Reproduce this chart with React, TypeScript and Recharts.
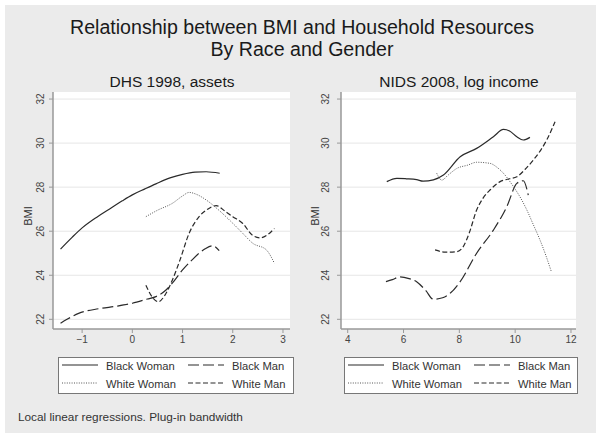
import { LineChart, Line, XAxis, YAxis, CartesianGrid } from 'recharts';

const yTicks = [22, 24, 26, 28, 30, 32];
const dhsTicks = [-1, 0, 1, 2, 3];
const nidsTicks = [4, 6, 8, 10, 12];

// DHS 1998, assets
const dhsBlackWomanX = [-1.43, -1.2, -1.0, -0.7, -0.46, -0.2, 0, 0.25, 0.47, 0.75, 1.0, 1.25, 1.47, 1.74];
const dhsBlackWomanY = [25.19, 25.72, 26.15, 26.65, 27.0, 27.38, 27.65, 27.92, 28.15, 28.42, 28.58, 28.68, 28.7, 28.63];
const dhsBlackManX = [-1.43, -1.3, -1.07, -0.67, -0.3, 0, 0.3, 0.47, 0.67, 0.8, 1.0, 1.2, 1.33, 1.45, 1.6, 1.73];
const dhsBlackManY = [21.82, 22.0, 22.27, 22.48, 22.6, 22.73, 22.92, 23.03, 23.33, 23.65, 24.24, 24.72, 25.0, 25.2, 25.34, 25.12];
const dhsWhiteWomanX = [0.27, 0.5, 0.8, 1.0, 1.13, 1.3, 1.47, 1.7, 2.0, 2.2, 2.4, 2.67, 2.83];
const dhsWhiteWomanY = [26.66, 26.95, 27.27, 27.6, 27.76, 27.65, 27.42, 27.0, 26.36, 25.9, 25.45, 25.15, 24.54];
const dhsWhiteManX = [0.27, 0.4, 0.52, 0.65, 0.8, 0.95, 1.13, 1.33, 1.5, 1.67, 1.85, 2.0, 2.2, 2.4, 2.55, 2.7, 2.83];
const dhsWhiteManY = [23.55, 23.0, 22.8, 23.1, 23.8, 24.7, 25.9, 26.66, 27.0, 27.16, 26.9, 26.66, 26.35, 25.8, 25.7, 25.85, 26.13];

// NIDS 2008, log income
const nidsBlackWomanX = [5.4, 5.76, 6.1, 6.47, 6.7, 7.07, 7.43, 8.03, 8.62, 9.22, 9.58, 9.8, 10.06, 10.29, 10.53];
const nidsBlackWomanY = [28.25, 28.4, 28.38, 28.34, 28.27, 28.33, 28.55, 29.38, 29.76, 30.29, 30.62, 30.55, 30.29, 30.14, 30.26];
const nidsBlackManX = [5.37, 5.6, 5.87, 6.2, 6.47, 6.8, 7.07, 7.4, 7.67, 8.03, 8.62, 9.22, 9.7, 10.06, 10.29, 10.47];
const nidsBlackManY = [23.71, 23.8, 23.93, 23.85, 23.71, 23.3, 22.91, 22.98, 23.18, 23.71, 25.0, 26.05, 27.11, 28.17, 28.29, 27.64];
const nidsWhiteWomanX = [7.19, 7.37, 7.6, 7.91, 8.3, 8.62, 9.1, 9.35, 9.58, 9.94, 10.2, 10.42, 10.65, 10.89, 11.1, 11.3];
const nidsWhiteWomanY = [28.63, 28.32, 28.55, 28.85, 29.0, 29.13, 29.08, 28.9, 28.63, 28.02, 27.5, 26.96, 26.3, 25.6, 24.9, 24.15];
const nidsWhiteManX = [7.13, 7.5, 7.91, 8.14, 8.35, 8.62, 8.85, 9.1, 9.46, 9.8, 10.06, 10.35, 10.65, 10.9, 11.13, 11.43];
const nidsWhiteManY = [25.15, 25.05, 25.07, 25.3, 25.9, 26.96, 27.5, 27.87, 28.25, 28.38, 28.47, 28.8, 29.23, 29.65, 30.14, 30.97];

const seriesNames = ['Black Woman', 'Black Man', 'White Woman', 'White Man'];

const pts = (xs: number[], ys: number[]) => xs.map((x, i) => ({ x, y: ys[i] }));

const styles: Record<string, { stroke: string; dash?: string; width: number }> = {
  'Black Woman': { stroke: '#2a2a2a', width: 1.2 },
  'Black Man': { stroke: '#2a2a2a', dash: '11 4', width: 1.2 },
  'White Woman': { stroke: '#555', dash: '1 1.4', width: 1 },
  'White Man': { stroke: '#2a2a2a', dash: '5 2.5', width: 1.2 },
};

const font = '"Liberation Sans", Arial, sans-serif';

const fmt = (v: number) => (v < 0 ? '\u2212' + Math.abs(v) : String(v));

function RotTick(props: any) {
  const { x, y, payload, shift } = props;
  const tx = x - shift;
  return (
    <text x={tx} y={y} transform={`rotate(-90 ${tx} ${y})`} textAnchor="middle" fontSize={10} fill="#444" fontFamily={font}>
      {payload.value}
    </text>
  );
}

function Panel(props: any) {
  const { left, width, plotLeft, plotRight, domain, ticks, series, shift } = props;
  return (
    <div style={{ position: 'absolute', left, top: 0 }}>
      <LineChart width={width} height={360} margin={{ top: 92, right: width - plotRight, bottom: 11, left: 0 }}>
        <CartesianGrid fill="#fff" vertical={false} stroke="#e6e6e6" horizontalValues={yTicks} />
        <XAxis
          type="number"
          dataKey="x"
          domain={domain}
          ticks={ticks}
          allowDataOverflow
          height={20}
          tickSize={4}
          tickMargin={3}
          tickFormatter={fmt}
          axisLine={{ stroke: '#999', strokeWidth: 1.5 }}
          tickLine={{ stroke: '#999' }}
          tick={{ fontSize: 10, fill: '#444', fontFamily: font }}
        />
        <YAxis
          type="number"
          dataKey="y"
          domain={[21.56, 32.32]}
          ticks={yTicks}
          allowDataOverflow
          width={plotLeft}
          tickSize={4}
          tickMargin={2}
          axisLine={{ stroke: '#999', strokeWidth: 1.5 }}
          tickLine={{ stroke: '#999' }}
          tick={(p: any) => <RotTick {...p} shift={shift} />}
        />
        {series.map((s: any) => (
          <Line
            key={s.name}
            data={s.data}
            dataKey="y"
            name={s.name}
            type="monotone"
            dot={false}
            activeDot={false}
            stroke={styles[s.name].stroke}
            strokeWidth={styles[s.name].width}
            strokeDasharray={styles[s.name].dash}
            isAnimationActive={false}
          />
        ))}
      </LineChart>
    </div>
  );
}

function LegendBox({ x, w }: { x: number; w: number }) {
  const rows = [365, 383];
  const cols = [
    { sx: 4, tx: 48 },
    { sx: 130, tx: 174 },
  ];
  return (
    <g>
      <rect x={x + 0.5} y={357.5} width={w} height={36} fill="#fff" stroke="#777" strokeWidth={1} />
      {seriesNames.map((n, i) => {
        const c = cols[i % 2];
        const r = rows[Math.floor(i / 2)];
        const st = styles[n];
        return (
          <g key={n}>
            <line x1={x + c.sx} x2={x + c.sx + 36} y1={r} y2={r} stroke={st.stroke} strokeWidth={st.width} strokeDasharray={st.dash} />
            <text x={x + c.tx} y={r + 4.5} fontSize={11.2} fill="#333" fontFamily={font}>
              {n}
            </text>
          </g>
        );
      })}
    </g>
  );
}

export default function App() {
  const dhs = [
    { name: 'Black Woman', data: pts(dhsBlackWomanX, dhsBlackWomanY) },
    { name: 'Black Man', data: pts(dhsBlackManX, dhsBlackManY) },
    { name: 'White Woman', data: pts(dhsWhiteWomanX, dhsWhiteWomanY) },
    { name: 'White Man', data: pts(dhsWhiteManX, dhsWhiteManY) },
  ];
  const nids = [
    { name: 'Black Woman', data: pts(nidsBlackWomanX, nidsBlackWomanY) },
    { name: 'Black Man', data: pts(nidsBlackManX, nidsBlackManY) },
    { name: 'White Woman', data: pts(nidsWhiteWomanX, nidsWhiteWomanY) },
    { name: 'White Man', data: pts(nidsWhiteManX, nidsWhiteManY) },
  ];

  return (
    <div style={{ position: 'absolute', left: 0, top: 0, width: 602, height: 440, background: '#fff', fontFamily: font }}>
      <svg width={602} height={440} style={{ position: 'absolute', left: 0, top: 0 }}>
        <rect x={5} y={5} width={591} height={428} fill="#ebebeb" />
        <text x={302} y={34} textAnchor="middle" fontSize={19.6} fill="#1a1a1a" fontFamily={font}>
          Relationship between BMI and Household Resources
        </text>
        <text x={302} y={56} textAnchor="middle" fontSize={19.6} fill="#1a1a1a" fontFamily={font}>
          By Race and Gender
        </text>
        <text x={172} y={87} textAnchor="middle" fontSize={15.5} fill="#1a1a1a" fontFamily={font}>
          DHS 1998, assets
        </text>
        <text x={459} y={87} textAnchor="middle" fontSize={15.5} fill="#1a1a1a" fontFamily={font}>
          NIDS 2008, log income
        </text>
        <text x={32} y={216} transform="rotate(-90 32 216)" textAnchor="middle" fontSize={11} fill="#333" fontFamily={font}>
          BMI
        </text>
        <text x={319} y={216} transform="rotate(-90 319 216)" textAnchor="middle" fontSize={11} fill="#333" fontFamily={font}>
          BMI
        </text>
        <LegendBox x={58} w={235} />
        <LegendBox x={344} w={233} />
        <text x={18} y={421} fontSize={11.8} fill="#333" fontFamily={font}>
          Local linear regressions. Plug-in bandwidth
        </text>
      </svg>
      <Panel left={0} width={300} plotLeft={53} plotRight={290} domain={[-1.58, 3.14]} ticks={dhsTicks} series={dhs} shift={3} />
      <Panel left={300} width={302} plotLeft={41} plotRight={276} domain={[3.76, 12.18]} ticks={nidsTicks} series={nids} shift={6} />
    </div>
  );
}
